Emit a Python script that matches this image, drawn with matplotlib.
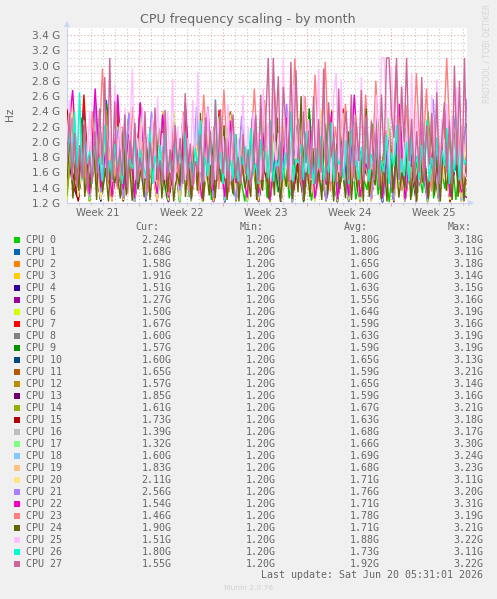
import numpy as np
import matplotlib
matplotlib.use("Agg")
import matplotlib.pyplot as plt
from matplotlib.patches import Rectangle
from matplotlib.transforms import Affine2D

W, H = 497, 599
names = [f"CPU {i}" for i in range(28)]
colors = ["#00CC00","#0066B3","#FF8000","#FFCC00","#330099","#990099","#CCFF00","#FF0000",
          "#808080","#008F00","#00487D","#B35A00","#B38F00","#6B006B","#8FB300","#B30000",
          "#BEBEBE","#80FF80","#80C9FF","#FFC080","#FFE680","#AA80FF","#EE00CC","#FF8080",
          "#666600","#FFBFFF","#00FFCC","#CC6699"]
cur = ["2.24G","1.68G","1.58G","1.91G","1.51G","1.27G","1.50G","1.67G","1.60G","1.57G",
       "1.60G","1.65G","1.57G","1.85G","1.61G","1.73G","1.39G","1.32G","1.60G","1.83G",
       "2.11G","2.56G","1.54G","1.46G","1.90G","1.51G","1.80G","1.55G"]
mins = ["1.20G"] * 28
avg = ["1.80G","1.80G","1.65G","1.60G","1.63G","1.55G","1.64G","1.59G","1.63G","1.59G",
       "1.65G","1.59G","1.65G","1.59G","1.67G","1.63G","1.68G","1.66G","1.69G","1.68G",
       "1.71G","1.76G","1.71G","1.78G","1.71G","1.88G","1.73G","1.92G"]
maxs = ["3.18G","3.11G","3.18G","3.14G","3.15G","3.16G","3.19G","3.16G","3.19G","3.19G",
        "3.13G","3.21G","3.14G","3.16G","3.21G","3.18G","3.17G","3.30G","3.24G","3.23G",
        "3.11G","3.20G","3.31G","3.19G","3.21G","3.22G","3.11G","3.22G"]

# values in hundredths of a GHz, read/
cpu_0 = [150,240,135,210,128,190,142,225,130,176,138,205,126,182,144,220,132,168,125,198,140,232,128,172,136,210,124,186,146,228,130,164,122,202,138,245,127,178,134,216,126,190,148,212,123,170,135,236,129,184,141,206,125,162,137,224,131,188,121,198,143,218,128,174,133,240,126,180,139,208,124,192,224]
cpu_1 = [160,215,130,245,136,198,125,255,142,178,128,238,133,192,122,226,146,170,131,205,126,242,138,182,124,216,150,174,129,234,135,196,123,208,144,168,127,228,132,186,121,218,148,176,130,236,125,200,140,172,122,224,134,188,127,212,145,166,129,232,124,194,138,220,126,178,131,206,123,240,136,168]
cpu_2 = [140,205,126,180,145,232,131,166,122,214,138,190,125,250,134,174,128,202,143,226,121,184,136,168,130,210,124,236,141,176,127,196,133,220,122,170,147,206,129,188,125,228,135,164,123,200,139,242,128,178,132,212,121,186,144,222,126,172,137,198,124,230,130,166,142,208,123,182,134,218,127,158]
cpu_3 = [135,252,128,190,142,214,125,178,136,232,130,168,123,200,146,222,127,182,133,208,122,240,139,174,126,196,131,226,124,170,145,212,129,186,121,234,137,164,128,204,134,218,123,176,148,192,126,238,132,168,125,210,140,184,122,224,135,172,128,202,143,216,124,180,130,228,127,166,138,194,121,191]
cpu_4 = [155,200,127,222,134,176,123,246,140,186,129,210,125,168,144,230,131,194,122,178,137,216,126,172,148,204,128,184,133,236,124,166,141,198,127,220,130,174,122,208,146,182,125,228,135,170,123,192,139,214,128,164,132,240,126,188,121,202,143,176,129,224,124,168,136,196,127,212,122,180,140,151]
cpu_5 = [145,228,130,184,122,206,137,170,126,234,133,192,124,214,142,176,128,200,121,224,135,166,127,188,146,210,123,172,131,238,125,180,139,202,122,168,129,218,134,186,124,230,141,174,126,196,122,208,132,164,128,226,137,182,123,198,144,170,125,216,130,190,121,222,136,172,127,204,124,178,133,127]
cpu_6 = [125,210,132,170,121,196,140,224,127,180,123,204,136,166,129,218,122,186,134,238,125,174,142,200,123,164,130,212,126,192,138,176,121,228,133,168,124,206,145,182,122,216,128,172,135,198,121,234,127,162,131,208,123,188,140,178,125,220,122,170,137,194,129,214,121,184,133,166,124,202,126,150]
cpu_7 = [240,180,132,262,125,208,140,172,126,236,134,190,122,250,128,168,145,214,124,180,130,226,123,198,138,164,127,242,121,186,135,206,125,170,142,254,122,178,129,218,133,166,124,232,140,192,126,174,121,244,131,202,123,168,147,210,125,184,128,228,122,172,136,196,124,216,130,238,121,180,127,167]
cpu_8 = [170,220,135,188,128,240,142,176,130,204,125,226,138,172,127,192,133,212,124,182,146,230,129,168,123,200,136,218,126,178,131,194,122,236,140,170,128,208,125,186,134,224,123,174,143,196,127,214,130,166,124,228,137,184,126,202,121,176,132,238,128,190,135,168,123,210,139,180,125,222,129,160]
cpu_9 = [165,232,124,196,136,176,122,250,130,208,127,170,142,222,123,186,133,240,126,178,121,204,138,168,128,216,124,192,145,234,122,172,131,198,127,226,135,166,123,210,129,184,121,244,140,174,125,200,133,220,122,168,137,190,126,236,128,176,123,206,143,182,124,214,130,170,122,228,134,192,126,157]
cpu_10 = [150,208,128,184,140,226,125,172,134,196,122,238,130,180,126,214,144,168,123,202,129,230,137,176,124,192,132,216,121,170,141,206,127,186,125,224,135,164,122,198,130,212,126,178,147,234,123,188,129,166,136,204,124,220,128,174,121,194,139,228,127,182,132,170,123,210,125,200,142,168,128,160]
cpu_11 = [145,226,130,190,123,212,138,172,126,248,133,180,122,204,128,164,141,232,125,194,131,176,124,218,136,168,122,206,129,240,127,184,134,170,123,198,145,224,126,178,121,210,132,166,128,236,124,192,139,174,122,216,130,186,125,202,137,168,123,228,127,180,133,196,121,172,142,214,126,190,124,165]
cpu_12 = [135,198,125,220,131,174,123,242,139,186,128,206,122,168,134,226,126,192,143,178,124,212,130,166,122,236,137,184,127,200,125,172,132,218,123,190,140,170,128,230,122,180,135,208,126,164,124,222,131,194,144,176,123,214,129,188,126,168,136,238,122,182,128,204,133,172,125,216,121,196,138,157]
cpu_13 = [190,144,124,210,135,180,122,228,128,170,133,200,123,190,127,218,140,164,122,182,131,236,125,172,137,208,121,186,129,166,126,224,134,194,122,176,142,212,124,168,130,230,123,184,136,202,127,170,121,216,132,188,125,164,139,240,122,178,128,198,134,172,123,220,126,192,141,168,124,206,129,185]
cpu_14 = [130,216,138,176,123,198,127,236,134,168,122,208,145,184,125,226,130,172,124,194,136,214,122,178,128,166,141,234,126,190,123,204,132,170,127,222,121,186,138,168,125,212,129,196,122,240,134,174,126,182,143,206,123,170,128,218,124,192,137,166,122,228,130,180,125,200,135,172,122,214,127,161]
cpu_15 = [242,160,122,222,130,184,125,204,141,170,123,238,128,192,134,176,122,214,126,166,138,230,124,188,131,200,122,172,145,218,127,180,123,206,129,164,135,226,122,194,126,174,140,212,124,184,128,240,122,168,133,198,125,220,123,178,137,190,121,208,129,170,142,232,124,182,127,196,122,216,131,173]
cpu_16 = [160,212,134,186,128,226,125,170,140,200,130,178,123,218,136,190,127,166,144,234,124,196,132,172,122,208,129,182,138,224,125,168,123,192,134,214,127,176,148,202,124,230,130,164,122,186,136,210,126,174,128,220,123,194,142,168,125,206,132,184,122,238,127,172,135,198,124,176,129,216,123,139]
cpu_17 = [150,234,130,192,124,206,138,174,127,220,132,184,123,240,128,170,146,210,125,196,122,178,134,228,127,168,140,202,124,188,130,216,122,174,136,236,126,194,123,166,143,212,128,180,125,224,131,170,122,198,137,208,124,184,129,172,145,232,123,192,127,168,133,218,122,178,138,204,125,188,128,132]
cpu_18 = [175,205,130,228,136,180,124,198,142,172,127,216,122,190,133,236,125,168,147,208,128,182,123,226,131,174,138,194,122,212,126,166,144,238,129,186,124,200,134,170,122,222,127,178,140,196,125,214,130,164,123,232,136,184,127,204,122,172,146,190,125,218,132,176,124,208,128,168,137,226,123,160]
cpu_19 = [160,230,136,184,127,252,132,176,124,208,141,192,126,222,130,170,123,240,146,186,128,202,125,168,134,216,122,178,138,234,127,190,124,164,143,212,129,196,123,172,136,226,126,182,122,206,131,168,148,238,125,188,128,174,122,218,135,198,127,166,140,210,124,184,130,228,123,172,137,194,126,183]
cpu_20 = [150,252,128,200,140,176,125,222,133,190,124,240,146,168,127,208,130,184,123,232,137,172,126,196,122,214,142,178,128,236,125,166,134,202,123,188,130,226,127,170,148,210,124,192,122,244,136,176,128,204,125,168,132,220,123,186,143,198,126,172,130,234,122,182,139,212,127,166,124,196,135,211]
cpu_21 = [180,230,140,204,128,252,134,186,146,216,126,238,132,176,124,240,150,196,128,226,136,178,125,246,141,190,127,208,130,170,124,234,155,200,128,218,134,182,125,250,138,192,126,214,145,174,123,228,132,204,127,186,148,240,125,196,131,172,124,224,140,210,127,184,136,256,125,194,130,216,146,256]
cpu_22 = [190,268,146,222,132,270,140,196,128,262,138,210,126,252,150,180,132,236,127,206,142,252,130,174,125,246,136,192,128,228,146,170,127,240,133,212,124,186,150,232,128,200,136,226,126,180,144,238,125,190,130,262,128,172,148,216,126,202,138,250,125,184,132,222,127,196,152,240,128,178,134,154]
cpu_23 = [170,232,148,208,135,240,142,296,150,190,138,220,132,246,155,200,134,226,140,186,130,215,148,240,136,196,132,262,150,220,138,268,134,200,130,188,146,270,140,255,136,268,150,230,138,310,146,260,142,288,140,305,135,220,150,250,136,235,145,262,132,280,140,215,150,300,136,248,132,290,145,270,135,240,150,310,140,255,138,146]
cpu_24 = [150,205,126,180,136,232,128,170,140,198,124,242,134,166,122,192,146,158,126,214,130,176,123,188,138,164,128,206,124,172,150,218,126,168,134,190,122,160,144,226,128,176,125,194,136,238,122,170,130,200,126,182,148,222,124,162,132,210,122,178,140,158,128,216,124,172,136,196,125,186,130,232,122,166,141,204,125,178,134,260,123,170,128,192,146,162,124,224,131,180,122,198,138,168,126,214,124,176,135,188,122,244,128,164,143,202,125,172,122,218,133,184,127,160,139,208,124,174,122,194,147,166,125,226,130,182,122,200,136,170,124,212,128,178,122,190]
cpu_25 = [200,255,150,230,168,260,148,215,172,240,152,205,178,235,150,250,165,210,148,275,
          170,225,150,245,160,215,296,150,205,175,245,152,210,165,232,148,258,170,212,150,
          240,160,283,148,220,172,235,150,205,168,255,150,292,160,225,148,245,170,215,150,
          232,165,208,152,250,148,228,172,205,150,262,160,220,148,240,170,212,150,270,160,
          225,148,255,168,212,150,310,165,240,150,275,170,222,148,262,160,230,150,245,172,
          295,150,235,165,215,148,260,290,160,282,150,225,170,248,148,214,160,285,150,232,
          172,205,150,262,165,310,310,240,155,300,170,235,148,275,160,222,150,290,165,240,
          148,258,170,215,150,262,160,282,148,230,172,250,150,235,165,272,150,222,160,151]
cpu_26 = [175,215,150,240,165,265,150,205,172,188,145,210,160,180,148,222,155,176,150,198,
          168,186,145,232,152,178,165,204,148,190,172,160,150,215,145,182,165,196,150,224,
          158,178,148,200,170,186,145,212,160,174,150,192,165,228,148,180,155,206,150,256,
          168,186,145,198,160,176,152,210,148,182,170,194,150,218,158,172,145,204,165,188,
          152,228,148,176,168,200,150,186,160,240,148,178,172,196,150,214,158,180,145,192,
          165,208,150,174,160,226,148,188,170,180,152,202,145,216,165,176,150,194,158,232,
          148,184,172,198,150,176,160,210,145,186,168,222,150,178,155,200,148,214,165,182,
          150,196,172,228,148,180,160,206,150,190,168,218,145,184,160,212,150,190,170,180]
cpu_27 = [175,238,150,212,141,196,152,228,138,182,146,214,160,244,170,285,148,310,150,253,
          142,190,156,236,140,202,170,225,148,180,152,240,138,200,165,245,150,176,146,242,
          155,190,140,222,168,205,145,264,150,198,142,175,160,210,146,232,172,215,144,255,
          150,243,158,205,140,194,236,152,180,145,210,158,190,142,170,235,148,262,150,228,
          310,160,310,210,286,150,272,222,148,305,170,294,200,146,240,172,215,152,260,145,
          230,160,296,148,252,180,206,146,270,155,210,240,150,262,152,226,175,268,148,235,
          164,228,150,218,142,262,176,310,310,235,205,310,150,272,200,310,175,230,148,214,
          160,285,148,222,170,238,150,265,145,204,252,160,228,146,300,170,280,152,310,155]
series = [cpu_0,cpu_1,cpu_2,cpu_3,cpu_4,cpu_5,cpu_6,cpu_7,cpu_8,cpu_9,cpu_10,cpu_11,cpu_12,cpu_13,
          cpu_14,cpu_15,cpu_16,cpu_17,cpu_18,cpu_19,cpu_20,cpu_21,cpu_22,cpu_23,cpu_24,cpu_25,cpu_26,cpu_27]

week_labels = ["Week 21","Week 22","Week 23","Week 24","Week 25"]
week_centers = [2.6, 9.6, 16.6, 23.6, 30.6]
week_edges = [6, 13, 20, 27]
y_ticks = [1.2,1.4,1.6,1.8,2.0,2.2,2.4,2.6,2.8,3.0,3.2,3.4]
x_span = 400 / 12

plt.rcParams["font.family"] = "DejaVu Sans"
BG = "#F0F0F0"
TXT = "#666666"
fig = plt.figure(figsize=(W/100, H/100), dpi=100, facecolor=BG)
ax = fig.add_axes([67/W, 1-203/H, 400/W, 175/H], facecolor="white")
for s, c in zip(series, colors):
    ax.plot(np.linspace(0, x_span, len(s)), np.array(s)/100, color=c, lw=1, zorder=3, solid_joinstyle="miter")
ax.set_xlim(0, x_span)
ax.set_ylim(1.2, 1.2 + 175/15.27*0.2)
ax.set_yticks(y_ticks, [f"{v:.1f} G" for v in y_ticks])
ax.set_yticks(np.arange(1.3, 3.5, 0.2), minor=True)
ax.set_xticks(week_edges)
ax.set_xticks(np.arange(1, 34), minor=True)
ax.grid(which="minor", color="#C8C8C8", lw=0.8, ls=(0, (1, 2)), zorder=0)
ax.grid(which="major", color="#E3A8A0", lw=0.8, ls=(0, (1, 2)), zorder=1)
ax.tick_params(axis="y", which="both", length=0, labelsize=7.6, labelcolor=TXT, pad=5)
ax.tick_params(axis="x", which="major", length=2, color="#E3A8A0", labelbottom=False)
ax.tick_params(axis="x", which="minor", length=1.5, color="#BBBBBB")
for sp in ["top", "right"]:
    ax.spines[sp].set_visible(False)
for sp in ["left", "bottom"]:
    ax.spines[sp].set_color("#CCD0EE")
    ax.spines[sp].set_linewidth(0.8)
    ax.spines[sp].set_zorder(2)
for x, l in zip(week_centers, week_labels):
    ax.annotate(l, (x, 1.2), xytext=(0, -3.5), textcoords="offset points", ha="center", va="top",
                fontsize=7.3, color=TXT, annotation_clip=False)

px = Affine2D().scale(1/W, -1/H).translate(0, 1) + fig.transFigure
def T(x, y, s, **k):
    k.setdefault("color", TXT)
    fig.text(x, y, s, transform=px, **k)

arrow_top = plt.Polygon([(64, 27), (70, 27), (67, 21)], closed=True, transform=px, facecolor="#CCD4F4", edgecolor="none")
arrow_right = plt.Polygon([(468, 200), (468, 206), (474, 203)], closed=True, transform=px, facecolor="#CCD4F4", edgecolor="none")
fig.add_artist(arrow_top); fig.add_artist(arrow_right)

T(248, 19.5, "CPU frequency scaling - by month", ha="center", va="center", fontsize=9.05)
T(10, 114, "Hz", rotation=90, ha="center", va="center", fontsize=7.6)
T(487.5, 53.5, "RRDTOOL / TOBI OETIKER", rotation=90, ha="center", va="center", fontsize=5.6, color="#D6D6D6")
T(248, 588.5, "Munin 2.0.76", ha="center", va="center", fontsize=5.4, color="#D2D2D2")

mono = dict(family="DejaVu Sans Mono", fontsize=7.2, va="center")
for xr, head in zip([159.5, 263.5, 367.5, 471.5], ["Cur:", "Min:", "Avg:", "Max:"]):
    T(xr, 227.5, head, ha="right", **mono)
for i in range(28):
    y = 240 + 12*i
    fig.add_artist(Rectangle((14, y-3), 6, 6, transform=px, facecolor=colors[i], edgecolor="none"))
    T(26, y, names[i], ha="left", **mono)
    T(171.5, y, cur[i], ha="right", **mono)
    T(275.5, y, mins[i], ha="right", **mono)
    T(379.5, y, avg[i], ha="right", **mono)
    T(483, y, maxs[i], ha="right", **mono)
T(483, 575.5, "Last update: Sat Jun 20 05:31:01 2026", ha="right", **mono)

fig.savefig("out.png", dpi=100, facecolor=BG)
